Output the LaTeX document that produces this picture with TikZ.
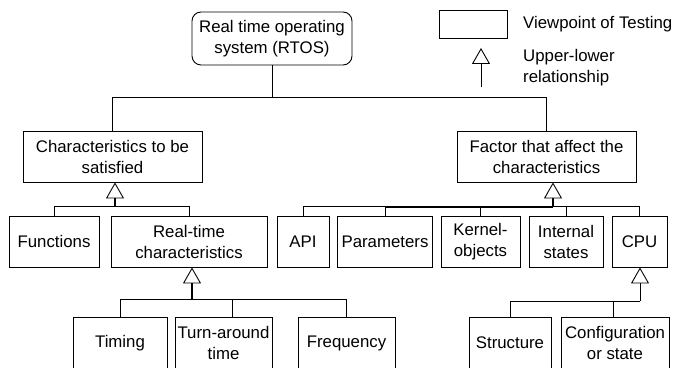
\documentclass[tikz,border=0pt]{standalone}
\usepackage{fontspec}
\setmainfont{Liberation Sans}
\usetikzlibrary{arrows.meta}
\begin{document}
\begin{tikzpicture}[x=1pt,y=1pt,
  every node/.style={font=\fontsize{16.8}{21}\selectfont},
  box/.style={draw,line width=0.9pt,align=center,inner sep=0pt},
  lvlA/.style={box,minimum width=179pt,minimum height=51pt},
  lvlB/.style={box,minimum height=51pt},
  lvlC/.style={box,minimum height=52pt},
  wire/.style={line width=0.9pt},
  bold/.style={line width=1.8pt},
  up/.style={-{Triangle[open,width=18pt,length=16pt,line width=0.9pt]}},
  label/.style={anchor=west,align=left,inner sep=0pt}]
\clip (0,0) rectangle (677,367);

% legend
\node[box,minimum width=68pt,minimum height=28pt] (lgbox) at (473,343) {};
\node[label] (lgtxt1) at (523,343) {Viewpoint of Testing};
\node[label] (lgtxt2) at (523,299) {Upper-lower\\relationship};
\coordinate (lgB) at (481,280);
\coordinate (lgT) at (481,319);
\draw[wire,up] (lgB) -- (lgT);

% top levels
\node[box,rounded corners=9pt,minimum width=160pt,minimum height=53pt] (root) at (272,328.5) {Real time operating\\system (RTOS)};
\node[lvlA] (char) at (112.5,210.5) {Characteristics to be\\satisfied};
\node[lvlA] (fac) at (546.5,210.5) {Factor that affect the\\characteristics};

% second level
\node[lvlB,minimum width=90pt] (func) at (54,125.5) {Functions};
\node[lvlB,minimum width=156pt] (rtc) at (189,125.5) {Real-time\\characteristics};
\node[lvlB,minimum width=52pt] (api) at (303,125.5) {API};
\node[lvlB,minimum width=95pt] (param) at (385,125.5) {Parameters};
\node[lvlB,minimum width=79pt] (kern) at (480.5,125.5) {Kernel-\\objects};
\node[lvlB,minimum width=74pt] (intl) at (566,125.5) {Internal\\states};
\node[lvlB,minimum width=55pt] (cpu) at (639.5,125.5) {CPU};

% third level
\node[lvlC,minimum width=94pt] (timing) at (120,24) {Timing};
\node[lvlC,minimum width=97pt] (turn) at (223.5,24) {Turn-around\\time};
\node[lvlC,minimum width=97pt] (freq) at (346.5,24) {Frequency};
\node[lvlC,minimum width=82pt] (struct) at (510,24) {Structure};
\node[lvlC,minimum width=108pt] (conf) at (615,24) {Configuration\\or state};

% root to first level
\draw[wire] (root.south) -- (root.south |- 0,269);
\draw[wire] (char.north) -- ++(0,33) -| (fac.north);

% characteristics group
\coordinate (charJ) at (115,160);
\draw[wire] (func.north) -- ++(0,9) -| (rtc.north);
\draw[bold,up] (charJ) -- (charJ |- char.south);

% factor group
\coordinate (facJ) at (553,160);
\draw[wire] (api.north) -- ++(0,9) -| (cpu.north);
\draw[wire] (param.north) -- (param.north |- facJ);
\draw[wire] (kern.north) -- (kern.north |- facJ);
\draw[wire] (intl.north) -- (intl.north |- facJ);
\draw[bold] (param.north |- facJ) -- (facJ);
\draw[bold,up] (facJ) -- (facJ |- fac.south);

% real-time characteristics group
\coordinate (rtcJ) at (192,67);
\draw[wire] (timing.north) -- ++(0,17) -| (freq.north);
\draw[wire] ([xshift=8.5pt]turn.north) -- ++(0,17);
\draw[bold,up] (rtcJ) -- (rtcJ |- rtc.south);

% CPU group
\coordinate (cpuJ) at (640,66);
\draw[wire] (struct.north) |- (cpuJ);
\draw[wire] ([xshift=-2pt]conf.north) -- ([xshift=-2pt]conf.north |- cpuJ);
\draw[wire,up] (cpuJ) -- (cpuJ |- cpu.south);
\end{tikzpicture}
\end{document}
